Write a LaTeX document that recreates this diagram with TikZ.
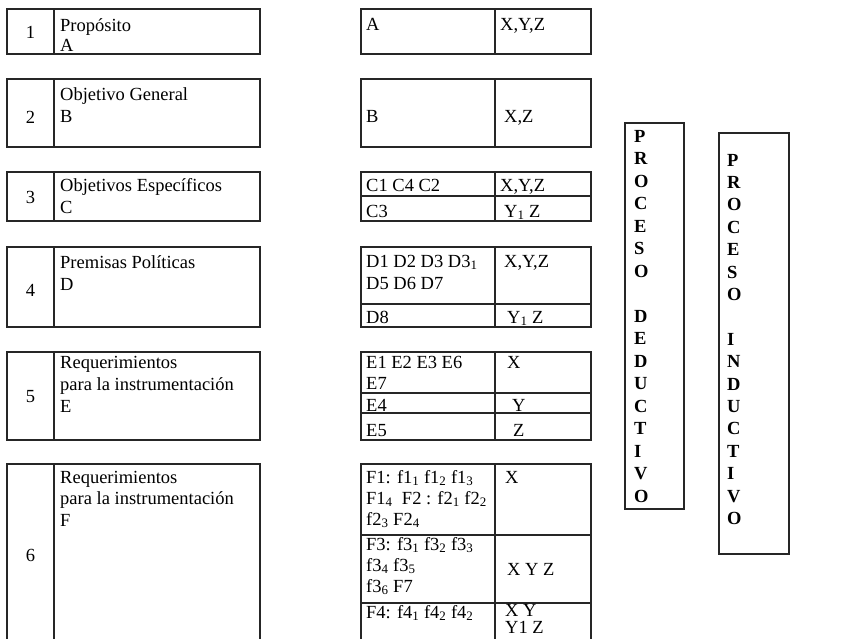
\documentclass[tikz,border=0pt]{standalone}
\usepackage{fontspec}
\setmainfont{Liberation Serif}
\newcommand{\fs}{\fontsize{18.5pt}{21.5pt}\selectfont}
\tikzset{
  frame/.style={draw=black!85, line width=1.1pt},
  txt/.style={anchor=base west, inner sep=0pt, font=\fs},
  num/.style={anchor=center, inner sep=0pt, font=\fs},
  vlet/.style={anchor=base west, inner sep=0pt, font=\fs\bfseries}
}
\begin{document}
\begin{tikzpicture}[x=1pt, y=-1pt]
\useasboundingbox (0,0) rectangle (854,638);
\clip (0,0) rectangle (854,638);
% ---------- left boxes ----------
\draw[frame] (7,9) rectangle (260,54);   \draw[frame] (54,9) -- (54,54);
\draw[frame] (7,79) rectangle (260,147); \draw[frame] (54,79) -- (54,147);
\draw[frame] (7,172) rectangle (260,221); \draw[frame] (54,172) -- (54,221);
\draw[frame] (7,247) rectangle (260,327); \draw[frame] (54,247) -- (54,327);
\draw[frame] (7,352) rectangle (260,440); \draw[frame] (54,352) -- (54,440);
\draw[frame] (7,464) rectangle (260,660); \draw[frame] (54,464) -- (54,660);
\node[num] (n1) at (30.5,32) {1};
\node[num] (n2) at (30.5,117) {2};
\node[num] (n3) at (30.5,197) {3};
\node[num] (n4) at (30.5,290) {4};
\node[num] (n5) at (30.5,397) {5};
\node[num] (n6) at (30.5,555) {6};
\node[txt] (l1a) at (60,31) {Propósito};
\node[txt] (l1b) at (60,51) {A};
\node[txt] (l2a) at (60,100) {Objetivo General};
\node[txt] (l2b) at (60,122) {B};
\node[txt] (l3a) at (60,191) {Objetivos Específicos};
\node[txt] (l3b) at (60,213) {C};
\node[txt] (l4a) at (60,268) {Premisas Políticas};
\node[txt] (l4b) at (60,290) {D};
\node[txt] (l5a) at (60,368) {Requerimientos};
\node[txt] (l5b) at (60,390) {para la instrumentación};
\node[txt] (l5c) at (60,412) {E};
\node[txt] (l6a) at (60,483) {Requerimientos};
\node[txt] (l6b) at (60,504) {para la instrumentación};
\node[txt] (l6c) at (60,526) {F};
% ---------- right table ----------
\draw[frame] (361,9) rectangle (591,54);   \draw[frame] (495,9) -- (495,54);
\draw[frame] (361,79) rectangle (591,147); \draw[frame] (495,79) -- (495,147);
\draw[frame] (361,172) rectangle (591,221); \draw[frame] (495,172) -- (495,221);
\draw[frame] (361,196) -- (591,196);
\draw[frame] (361,247) rectangle (591,327); \draw[frame] (495,247) -- (495,327);
\draw[frame] (361,304) -- (591,304);
\draw[frame] (361,352) rectangle (591,440); \draw[frame] (495,352) -- (495,440);
\draw[frame] (361,393) -- (591,393);
\draw[frame] (361,413) -- (591,413);
\draw[frame] (361,464) rectangle (591,660); \draw[frame] (495,464) -- (495,660);
\draw[frame] (361,535) -- (591,535);
\draw[frame] (361,603) -- (591,603);
\node[txt] (ra) at (366,30) {A};
\node[txt] (rax) at (500,30) {X,Y,Z};
\node[txt] (rb) at (366,122) {B};
\node[txt] (rbx) at (504,122) {X,Z};
\node[txt] (rc1) at (366,191) {C1 C4 C2};
\node[txt] (rc1x) at (500,191) {X,Y,Z};
\node[txt] (rc2) at (366,217) {C3};
\node[txt] (rc2x) at (504,217) {Y\textsubscript{1} Z};
\node[txt] (rd1) at (366,267) {D1 D2 D3 D3\textsubscript{1}};
\node[txt] (rd1b) at (366,289) {D5 D6 D7};
\node[txt] (rd1x) at (504,267) {X,Y,Z};
\node[txt] (rd2) at (366,323) {D8};
\node[txt] (rd2x) at (507,323) {Y\textsubscript{1} Z};
\node[txt] (re1) at (366,368) {E1 E2 E3 E6};
\node[txt] (re1b) at (366,389) {E7};
\node[txt] (re1x) at (507,368) {X};
\node[txt] (re2) at (366,411) {E4};
\node[txt] (re2x) at (512,411) {Y};
\node[txt] (re3) at (366,436) {E5};
\node[txt] (re3x) at (513,436) {Z};
\node[txt] (rf1) at (366,483) {F1: f1\textsubscript{1} f1\textsubscript{2} f1\textsubscript{3}};
\node[txt] (rf1b) at (366,504) {F1\textsubscript{4}\enspace F2 : f2\textsubscript{1} f2\textsubscript{2}};
\node[txt] (rf1c) at (366,525) {f2\textsubscript{3} F2\textsubscript{4}};
\node[txt] (rf1x) at (505,483) {X};
\node[txt] (rf2) at (366,550) {F3: f3\textsubscript{1} f3\textsubscript{2} f3\textsubscript{3}};
\node[txt] (rf2b) at (366,571) {f3\textsubscript{4} f3\textsubscript{5}};
\node[txt] (rf2c) at (366,592) {f3\textsubscript{6} F7};
\node[txt] (rf2x) at (507,575) {X Y Z};
\node[txt] (rf3) at (366,618) {F4: f4\textsubscript{1} f4\textsubscript{2} f4\textsubscript{2}};
\node[txt] (rf3x) at (505,616) {X Y};
\node[txt] (rf3y) at (505,633) {Y1 Z};
% ---------- vertical process boxes ----------
\draw[frame] (625,123) rectangle (684,509);
\draw[frame] (719,133) rectangle (789,554);
\foreach \ch [count=\k from 0] in {P,R,O,C,E,S,O}
  \node[vlet] (dA\k) at (634,142+22.5*\k) {\ch};
\foreach \ch [count=\k from 8] in {D,E,D,U,C,T,I,V,O}
  \node[vlet] (dB\k) at (634,142+22.5*\k) {\ch};
\foreach \ch [count=\k from 0] in {P,R,O,C,E,S,O}
  \node[vlet] (iA\k) at (727,166+22.4*\k) {\ch};
\foreach \ch [count=\k from 8] in {I,N,D,U,C,T,I,V,O}
  \node[vlet] (iB\k) at (727,166+22.4*\k) {\ch};
\end{tikzpicture}
\end{document}
